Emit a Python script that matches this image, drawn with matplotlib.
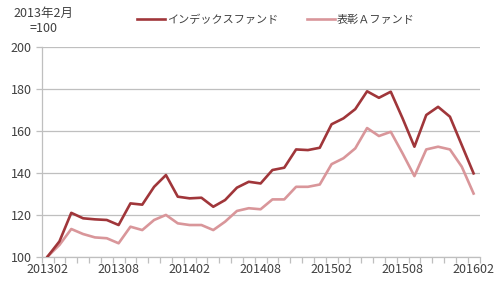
import matplotlib
matplotlib.use("Agg")
import matplotlib.pyplot as plt
import numpy as np

plt.rcParams['font.family'] = ['Noto Sans CJK JP', 'DejaVu Sans']

months = ["201302","201303","201304","201305","201306","201307","201308","201309","201310",
          "201311","201312","201401","201402","201403","201404","201405","201406","201407",
          "201408","201409","201410","201411","201412","201501","201502","201503","201504",
          "201505","201506","201507","201508","201509","201510","201511","201512","201601","201602"]
index_fund = [100, 107.2, 120.8, 118.2, 117.7, 117.4, 115.0, 125.3, 124.7, 133.2, 138.8, 128.5,
              127.7, 128.0, 123.7, 126.9, 132.8, 135.6, 134.8, 141.2, 142.3, 151.0, 150.7, 151.8,
              163.0, 165.8, 170.2, 178.7, 175.6, 178.5, 165.8, 152.3, 167.4, 171.3, 166.6, 153.1, 139.6]
fund_a = [100, 105.5, 113.1, 110.7, 109.1, 108.7, 106.3, 114.2, 112.6, 117.4, 119.8, 115.8,
          115.0, 115.0, 112.6, 116.6, 121.7, 123.0, 122.5, 127.2, 127.2, 133.2, 133.2, 134.3,
          144.0, 146.8, 151.5, 161.2, 157.4, 159.4, 149.1, 138.3, 151.0, 152.3, 151.0, 142.8, 130.0]
label_idx = "インデックスファンド"
label_a = "表彰Ａファンド"
yticks = [100, 120, 140, 160, 180, 200]

dark = "#a0363a"
light = "#d9969a"
txt = "#404040"
grid = "#bfbfbf"

fig = plt.figure(figsize=(5.0, 2.84), dpi=100)
ax = fig.add_axes([0.0834, 0.0968, 0.959 - 0.0834, 0.836 - 0.0968])

x = np.arange(len(months))
l1, = ax.plot(x, index_fund, color=dark, lw=1.9, solid_joinstyle='round', label=label_idx, zorder=3)
l2, = ax.plot(x, fund_a, color=light, lw=1.9, solid_joinstyle='round', label=label_a, zorder=2)

ax.set_xlim(-0.5, len(months) - 0.5)
ax.set_ylim(100, 200)
ax.set_yticks(yticks)
ax.set_yticklabels([str(v) for v in yticks], fontsize=9, color=txt)
ax.yaxis.grid(True, color=grid, lw=0.9)
ax.set_axisbelow(True)

ax.set_xticks(x[::6])
ax.set_xticklabels(months[::6], fontsize=9, color=txt)
ax.set_xticks(np.arange(-0.5, len(months)), minor=True)
ax.tick_params(axis='x', which='major', length=0, pad=5)
ax.tick_params(axis='x', which='minor', length=4, color=grid, width=0.9, direction='out')
ax.tick_params(axis='y', length=4, color=grid, width=0.9, pad=3)

for s in ['top', 'right']:
    ax.spines[s].set_visible(False)
for s in ['left', 'bottom']:
    ax.spines[s].set_color(grid)
    ax.spines[s].set_linewidth(0.9)

fig.legend(handles=[l1, l2], loc='center left', bbox_to_anchor=(0.254, 1 - 20 / 284), ncol=2,
           frameon=False, fontsize=8, labelcolor=txt, handlelength=2.5, columnspacing=2.6,
           handletextpad=0.2)

fig.text(43 / 500, 1 - 13 / 284, "2013年2月", ha='center', va='center', fontsize=9, color=txt)
fig.text(44 / 500, 1 - 28 / 284, "=100", ha='center', va='center', fontsize=9, color=txt)

fig.savefig("out.png", dpi=100)
